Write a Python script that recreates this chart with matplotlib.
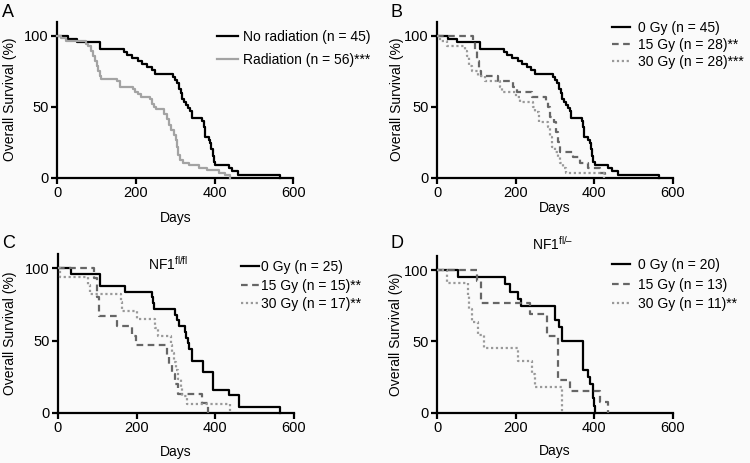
import matplotlib
matplotlib.use("Agg")
import matplotlib.pyplot as plt

plt.rcParams['font.family'] = ['Liberation Sans', 'DejaVu Sans']
plt.rcParams['mathtext.fontset'] = 'custom'
plt.rcParams['mathtext.rm'] = 'Liberation Sans'
plt.rcParams['mathtext.it'] = 'Liberation Sans:italic'
plt.rcParams['mathtext.bf'] = 'Liberation Sans:bold'

# ---------------- data (Kaplan-Meier step points: day, survival %) ----------------
ctrl_days = [0, 28, 50, 108, 170, 178, 190, 205, 215, 228, 240, 248, 295, 300, 305, 310, 315, 318,
             322, 328, 333, 338, 342, 368, 372, 375, 385, 388, 392, 395, 398, 402, 436, 445, 460, 565]
ctrl_surv = [100, 97.8, 95.6, 91.1, 88.9, 86.7, 84.4, 82.2, 80.0, 77.8, 75.6, 73.3, 71.1, 68.9, 66.7,
             62.2, 60.0, 55.6, 53.3, 51.1, 48.9, 46.7, 42.2, 40.0, 35.6, 28.9, 26.7, 24.4, 20.0, 15.6,
             11.1, 8.9, 6.7, 4.4, 2.2, 0]

rad_days = [0, 10, 22, 72, 78, 85, 90, 95, 100, 104, 108, 112, 152, 160, 192, 198, 205, 212, 235, 240,
            245, 252, 272, 278, 285, 290, 296, 302, 305, 308, 312, 320, 335, 360, 380, 412, 426, 438]
rad_surv = [100, 98.2, 96.4, 94.6, 92.9, 89.3, 85.7, 82.1, 78.6, 75.0, 71.4, 69.6, 67.9, 64.3, 62.5,
            60.7, 58.9, 57.1, 55.4, 51.8, 50.0, 48.2, 44.6, 41.1, 37.5, 33.9, 30.4, 26.8, 21.4, 16.1,
            12.5, 10.7, 8.9, 7.1, 5.4, 3.6, 1.8, 0]

b15_days = [0, 92, 97, 102, 106, 111, 155, 194, 202, 241, 278, 282, 287, 298, 303, 308, 312, 347, 364,
            383, 415, 428]
b15_surv = [100, 96.4, 89.3, 82.1, 75.0, 71.4, 67.9, 64.3, 60.7, 57.1, 53.6, 50.0, 42.9, 39.3, 32.1,
            25.0, 17.9, 14.3, 10.7, 7.1, 3.6, 0]

b30_days = [0, 8, 25, 70, 75, 80, 88, 105, 122, 160, 165, 200, 210, 245, 250, 258, 283, 287, 292, 300,
            308, 314, 320, 328, 425]
b30_surv = [100, 96.4, 92.9, 89.3, 85.7, 78.6, 75.0, 71.4, 67.9, 64.3, 60.7, 57.1, 53.6, 50.0, 46.4,
            39.3, 35.7, 28.6, 21.4, 17.9, 14.3, 10.7, 7.1, 3.6, 0]

c0_days = [0, 32, 108, 170, 238, 241, 244, 298, 303, 308, 322, 326, 330, 334, 340, 368, 393, 435, 460, 565]
c0_surv = [100, 96, 88, 84, 80, 76, 72, 68, 64, 60, 56, 52, 48, 44, 36, 28, 16, 12, 4, 0]

c15_days = [0, 92, 98, 105, 151, 189, 198, 276, 283, 290, 298, 306, 367, 382]
c15_surv = [100, 93.3, 80.0, 66.7, 60.0, 53.3, 46.7, 40.0, 33.3, 26.7, 20.0, 13.3, 6.7, 0]

c30_days = [0, 5, 76, 82, 160, 163, 202, 247, 253, 287, 290, 294, 300, 304, 312, 316, 329, 438]
c30_surv = [100, 94.1, 88.2, 82.4, 76.5, 70.6, 64.7, 58.8, 52.9, 47.1, 41.2, 35.3, 29.4, 23.5, 17.6,
            11.8, 5.9, 0]

d0_days = [0, 52, 173, 185, 205, 213, 300, 310, 317, 372, 384, 390, 396, 400, 402]
d0_surv = [100, 95, 90, 85, 80, 75, 65, 60, 50, 30, 25, 20, 10, 5, 0]

d15_days = [0, 100, 112, 236, 280, 308, 337, 415, 436]
d15_surv = [100, 92.3, 76.9, 69.2, 53.8, 23.1, 15.4, 7.7, 0]

d30_days = [0, 24, 77, 80, 88, 105, 120, 206, 241, 249, 317]
d30_surv = [100, 90.9, 81.8, 72.7, 63.6, 54.5, 45.5, 36.4, 27.3, 18.2, 0]

labels_A = ['No radiation (n = 45)', 'Radiation (n = 56)***']
labels_B = ['0 Gy (n = 45)', '15 Gy (n = 28)**', '30 Gy (n = 28)***']
labels_C = ['0 Gy (n = 25)', '15 Gy (n = 15)**', '30 Gy (n = 17)**']
labels_D = ['0 Gy (n = 20)', '15 Gy (n = 13)', '30 Gy (n = 11)**']

x_ticks = [0, 200, 400, 600]
y_ticks = [0, 50, 100]

# ---------------- figure ----------------
W, H = 750, 463
BG = '#fafafa'
fig = plt.figure(figsize=(W / 100, H / 100), dpi=100, facecolor=BG)

def px_axes(left, right, bottom, top):
    return fig.add_axes([left / W, 1 - bottom / H, (right - left) / W, (bottom - top) / H])

LW = 1.6
style_solid = dict(color='black', lw=LW, ls='-')
style_grey = dict(color='#a3a3a3', lw=LW, ls='-')
style_dash = dict(color='#666666', lw=LW, ls=(0, (3, 2)))
style_dot = dict(color='#999999', lw=LW, ls=(0, (1, 1.2)))

def setup(ax, xl_y, yl_x):
    ax.set_facecolor(BG)
    ax.set_xlim(0, 600)
    ax.set_ylim(0, 110)
    ax.set_xticks(x_ticks)
    ax.set_yticks(y_ticks)
    for s in ['top', 'right']:
        ax.spines[s].set_visible(False)
    for s in ['left', 'bottom']:
        ax.spines[s].set_linewidth(LW)
        ax.spines[s].set_zorder(1)
    ax.tick_params(direction='out', length=4, width=LW, labelsize=10.5, pad=2, colors='black')
    ax.set_xlabel('Days', fontsize=10)
    ax.set_ylabel('Overall Survival (%)', fontsize=10)
    ax.xaxis.set_label_coords(0.5, xl_y)
    ax.yaxis.set_label_coords(yl_x, 0.5)

def curves(ax, data, styles, labels, anchor, handlelength, textpad, spacing):
    hs = []
    for (d, s), st, lab in zip(data, styles, labels):
        h, = ax.step(d, s, where='post', clip_on=False, zorder=3, label=lab, **st)
        hs.append(h)
    ax.legend(handles=hs, loc='upper left', bbox_to_anchor=(anchor[0] / W, 1 - anchor[1] / H),
              bbox_transform=fig.transFigure, frameon=False, fontsize=10, borderpad=0,
              borderaxespad=0, handlelength=handlelength, handletextpad=textpad,
              labelspacing=spacing)

axA = px_axes(57.3, 293.3, 177.7, 21.7)
setup(axA, -0.213, -0.171)
curves(axA, [(ctrl_days, ctrl_surv), (rad_days, rad_surv)], [style_solid, style_grey], labels_A,
       (217, 30), 1.5, 0.36, 0.65)

axB = px_axes(437.3, 672.7, 177.7, 21.7)
setup(axB, -0.149, -0.142)
curves(axB, [(ctrl_days, ctrl_surv), (b15_days, b15_surv), (b30_days, b30_surv)],
       [style_solid, style_dash, style_dot], labels_B, (612, 21), 1.3, 0.58, 0.2)

axC = px_axes(58, 294, 412.7, 254)
setup(axC, -0.203, -0.174)
curves(axC, [(c0_days, c0_surv), (c15_days, c15_surv), (c30_days, c30_surv)],
       [style_solid, style_dash, style_dot], labels_C, (241, 260), 1.27, 0.2, 0.33)

axD = px_axes(437.3, 672.7, 412.7, 256)
setup(axD, -0.2, -0.146)
curves(axD, [(d0_days, d0_surv), (d15_days, d15_surv), (d30_days, d30_surv)],
       [style_solid, style_dash, style_dot], labels_D, (612, 258), 1.3, 0.58, 0.4)

fig.text(148 / W, 1 - 264 / H, r'NF1$^{\mathrm{fl/fl}}$', fontsize=10, va='center', ha='left')
fig.text(532 / W, 1 - 244 / H, r'NF1$^{\mathrm{fl/–}}$', fontsize=10, va='center', ha='left')

for t, x, y in [('A', 2, 4), ('B', 390, 4), ('C', 2, 235), ('D', 391, 235)]:
    fig.text(x / W, 1 - y / H, t, fontsize=13, va='top', ha='left')

fig.savefig('out.png', dpi=100, facecolor=BG)
